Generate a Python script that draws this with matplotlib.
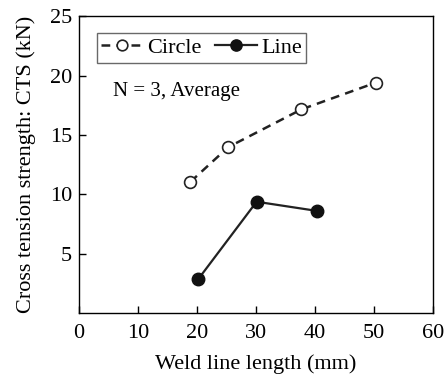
import numpy as np
import matplotlib.pyplot as plt

circle_x = [18.9, 25.3, 37.7, 50.3]
circle_y = [11.05, 13.97, 17.15, 19.4]
line_x = [20.2, 30.1, 40.3]
line_y = [2.84, 9.37, 8.6]

plt.rcParams['font.family'] = ['Liberation Serif']

fig = plt.figure(figsize=(4.46, 3.76), dpi=100)
ax = fig.add_axes([0.177, 0.1676, 0.794, 0.7894])

ax.plot(circle_x, circle_y, '--', color='#222222', lw=1.8, dashes=(3.5, 2.5),
        marker='o', ms=8.5, mfc='white', mec='#222222', mew=1.2, label='Circle')
ax.plot(line_x, line_y, '-', color='#222222', lw=1.6,
        marker='o', ms=9, mfc='#111111', mec='#111111', label='Line')

ax.set_xlim(0, 60)
ax.set_ylim(0, 25)
ax.set_xticks(np.arange(0, 61, 10))
ax.set_yticks([5, 10, 15, 20, 25])
ax.tick_params(direction='in', length=5, width=1, labelsize=16)
ax.tick_params(axis='x', pad=8)
ax.tick_params(axis='y', pad=5)
for s in ax.spines.values():
    s.set_linewidth(1)

ax.set_xlabel('Weld line length (mm)', fontsize=16, labelpad=8)
ax.set_ylabel('Cross tension strength: CTS (kN)', fontsize=16, labelpad=10)

leg = ax.legend(loc='upper left', ncol=2, bbox_to_anchor=(0.05, 0.943),
                frameon=True, fancybox=False, edgecolor='#444444',
                handlelength=1.9, handletextpad=0.18, columnspacing=0.6,
                borderpad=0.2, borderaxespad=0, fontsize=16, markerscale=0.9)
leg.get_frame().set_linewidth(1)

ax.text(0.097, 0.745, 'N = 3, Average', transform=ax.transAxes, fontsize=15, va='center')

fig.savefig('out.png', dpi=100)
